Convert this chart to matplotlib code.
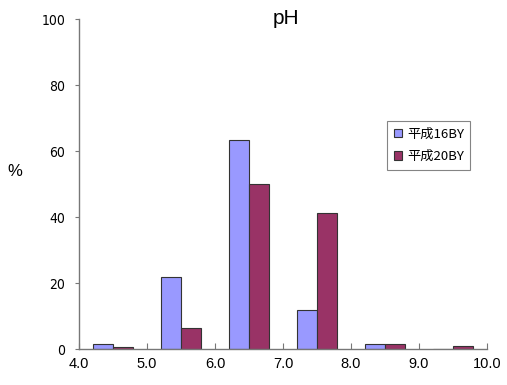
import matplotlib
matplotlib.use("Agg")
import matplotlib.pyplot as plt
import numpy as np

plt.rcParams['font.family'] = ['Noto Sans CJK JP', 'DejaVu Sans']

# pH distribution (%) per 1.0-wide bin
bin_edges = ["4.0", "5.0", "6.0", "7.0", "8.0", "9.0", "10.0"]
series_names = ["平成16BY", "平成20BY"]
h16 = [1.5, 21.7, 63.4, 11.8, 1.5, 0.0]
h20 = [0.5, 6.5, 49.9, 41.2, 1.5, 1.0]
y_ticks = [0, 20, 40, 60, 80, 100]

colors = ["#9999FF", "#993366"]

fig = plt.figure(figsize=(5.07, 3.85), dpi=100)
ax = fig.add_axes([0.156, 0.0935, 0.8046, 0.857])

centers = np.arange(len(h16)) + 0.5
w = 0.294
ax.bar(centers - w / 2, h16, width=w, color=colors[0], edgecolor="#333333",
       linewidth=0.8, label=series_names[0])
ax.bar(centers + w / 2, h20, width=w, color=colors[1], edgecolor="#333333",
       linewidth=0.8, label=series_names[1])

ax.set_xlim(0, len(h16))
ax.set_ylim(0, 100)
ax.set_xticks(np.arange(len(bin_edges)))
ax.set_xticklabels(bin_edges, fontsize=10.5, family=['Liberation Sans', 'DejaVu Sans'])
ax.set_yticks(y_ticks)
ax.set_yticklabels([str(v) for v in y_ticks], fontsize=10,
                   family=['Liberation Sans Narrow', 'DejaVu Sans'],
                   fontstretch='condensed')

for s in ["top", "right"]:
    ax.spines[s].set_visible(False)
for s in ["left", "bottom"]:
    ax.spines[s].set_color("#777777")
    ax.spines[s].set_linewidth(1.0)

ax.tick_params(axis="y", direction="out", length=3, color="#777777", pad=7)
ax.tick_params(axis="x", direction="in", length=4, color="#777777", pad=6)

fig.text(286 / 507, 1 - 18 / 385, "pH", fontsize=15, ha="center", va="center",
         family=['Liberation Sans', 'DejaVu Sans'])
fig.text(15 / 507, 1 - 171 / 385, "%", fontsize=12, ha="center", va="center",
         family=['Liberation Sans', 'DejaVu Sans'])

leg = ax.legend(loc="upper left", bbox_to_anchor=(0.755, 0.69), fontsize=9.5,
                frameon=True, fancybox=False, edgecolor="#666666",
                handlelength=0.6, handleheight=0.6, handletextpad=0.4,
                borderpad=0.5, labelspacing=0.7, borderaxespad=0)
leg.get_frame().set_linewidth(0.8)

fig.savefig("out.png", dpi=100)
